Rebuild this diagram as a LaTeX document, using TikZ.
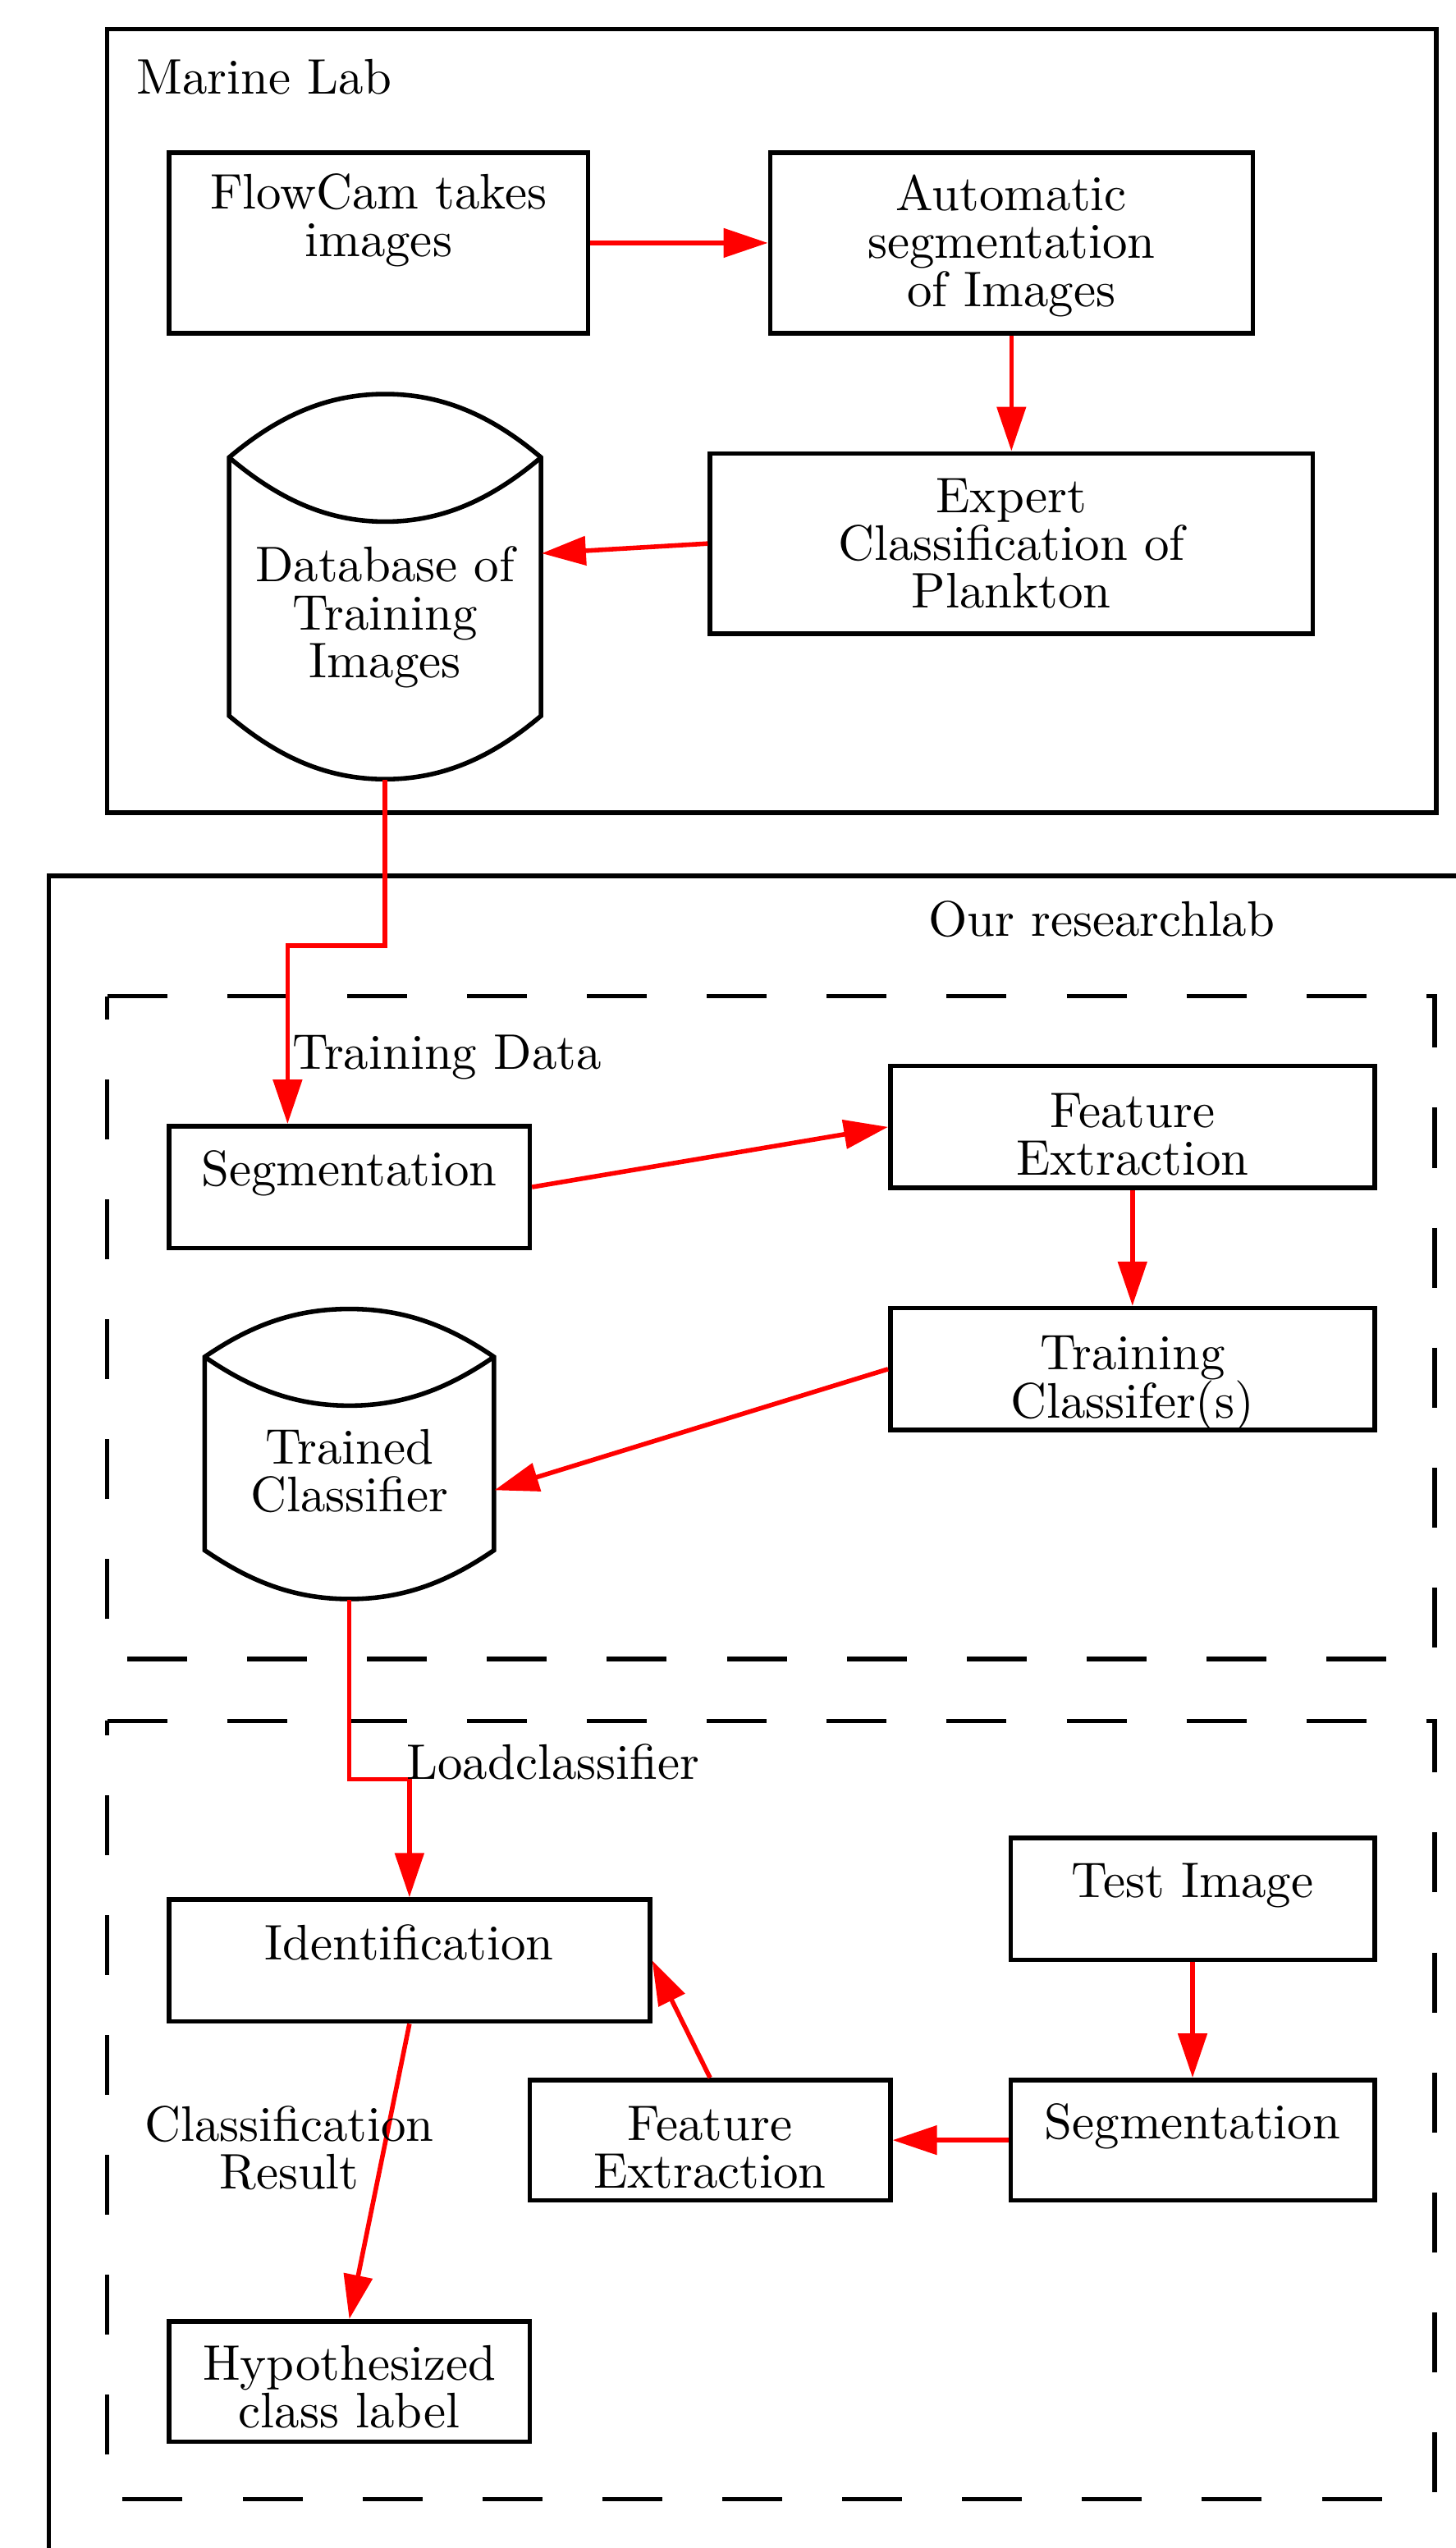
\documentclass[tikz,border=0pt]{standalone}
\usepackage{fontspec}
\setmainfont{lmroman10-regular.otf}
\usetikzlibrary{arrows.meta}
\tikzset{
  box/.style={draw, line width=1.6pt, inner sep=0pt},
  txt/.style={align=center, anchor=base},
  edge/.style={draw=red, line width=1.6pt, -{Triangle[length=15.5pt,width=10pt]}},
  cluster/.style={line width=1.6pt},
  dashcluster/.style={line width=1.6pt, dash pattern=on 21pt off 21pt},
}
\begin{document}
\begin{tikzpicture}[x=0.2mm, y=-0.2mm, font=\fontsize{17.5}{16.8}\selectfont]
\useasboundingbox (0,0) rectangle (896,1568);
% clusters
\draw[cluster] (66,18) rectangle (884,500);
\draw[cluster] (30,1568) -- (30,539) -- (896,539);
\draw[dashcluster] (66,613) -- (883,613) -- (883,1021) -- (66,1021) -- cycle;
\draw[dashcluster] (66,1059) -- (883,1059) -- (883,1538) -- (66,1538) -- cycle;
\node[txt, anchor=base west] (marinelbl) at (78,58) {Marine Lab};
\node[txt] (ourlbl) at (678,576) {Our researchlab};
\node[txt] (traininglbl) at (275,658) {Training Data};
% marine lab
\node[box, minimum width=51.6mm, minimum height=22.2mm, label={[txt, yshift=8pt]center:FlowCam takes\\images}] (flowcam) at (233,149.5) {};
\node[box, minimum width=59.4mm, minimum height=22.2mm, label={[txt, yshift=-1pt]center:Automatic\\segmentation\\of Images}] (autoseg) at (622.5,149.5) {};
\node[box, minimum width=74.2mm, minimum height=22.2mm, label={[txt, yshift=0pt]center:Expert\\Classification of\\Plankton}] (expert) at (622.5,334.5) {};
\node[inner sep=0pt, minimum width=38.4mm, minimum height=47.4mm, label={[txt, yshift=-10.8pt]center:Database of\\Training\\Images}] (database) at (237,361) {};
\draw[line width=1.6pt] (141,281.5) .. controls (170,257) and (200,242.5) .. (237,242.5) .. controls (274,242.5) and (304,257) .. (333,281.5) -- (333,440.5) .. controls (304,465) and (274,479.5) .. (237,479.5) .. controls (200,479.5) and (170,465) .. (141,440.5) -- cycle;
\draw[line width=1.6pt] (141,281.5) .. controls (170,306) and (200,321) .. (237,321) .. controls (274,321) and (304,306) .. (333,281.5);
% training data
\node[box, minimum width=44.4mm, minimum height=15mm, label={[txt, yshift=4.8pt]center:Segmentation}] (segtrain) at (215,730.5) {};
\node[box, minimum width=59.6mm, minimum height=15mm, label={[txt, yshift=-2.6pt]center:Feature\\Extraction}] (feattrain) at (697,693.5) {};
\node[box, minimum width=59.6mm, minimum height=15mm, label={[txt, yshift=-5pt]center:Training\\Classifer(s)}] (trainclf) at (697,842.5) {};
\node[inner sep=0pt, minimum width=35.6mm, minimum height=35.8mm, label={[txt, yshift=-6pt]center:Trained\\Classifier}] (trained) at (215,894.75) {};
\draw[line width=1.6pt] (126,835) .. controls (153,816.5) and (180,805.5) .. (215,805.5) .. controls (250,805.5) and (277,816.5) .. (304,835) -- (304,954) .. controls (277,972.5) and (250,984) .. (215,984) .. controls (180,984) and (153,972.5) .. (126,954) -- cycle;
\draw[line width=1.6pt] (126,835) .. controls (153,853.5) and (180,865) .. (215,865) .. controls (250,865) and (277,853.5) .. (304,835);
% identification
\node[box, minimum width=44.8mm, minimum height=15mm, label={[txt, yshift=4.8pt]center:Test Image}] (testimg) at (734,1168.5) {};
\node[box, minimum width=44.8mm, minimum height=14.8mm, label={[txt, yshift=4.8pt]center:Segmentation}] (segtest) at (734,1317) {};
\node[box, minimum width=44.4mm, minimum height=14.8mm, label={[txt, yshift=-2.6pt]center:Feature\\Extraction}] (feattest) at (437,1317) {};
\node[box, minimum width=59.2mm, minimum height=15mm, label={[txt, yshift=6.2pt]center:Identification}] (ident) at (252,1206.5) {};
\node[box, minimum width=44.4mm, minimum height=14.8mm, label={[txt, yshift=-1.9pt]center:Hypothesized\\class label}] (hypo) at (215,1465.5) {};
\coordinate (bendA) at (177,582);
\coordinate (bendB) at (252,1095);
\draw[edge] (flowcam.east) -- (autoseg.west);
\draw[edge] (autoseg.south) -- (expert.north);
\draw[edge] (expert.west) -- (database.12);
\draw[edge] (database.south) |- (bendA) -- (bendA |- segtrain.north);
\draw[edge] (segtrain.east) -- (feattrain.west);
\draw[edge] (feattrain.south) -- (trainclf.north);
\draw[edge] (trainclf.west) -- (trained.-14);
\draw[edge] (trained.south) |- (bendB) -- (bendB |- ident.north);
\draw[edge] (testimg.south) -- (segtest.north);
\draw[edge] (segtest.west) -- (feattest.east);
\draw[edge] (feattest.north) -- (ident.east);
\draw[edge] (ident.south) -- (hypo.north);
\node[txt, anchor=base west] (loadlbl) at (244,1095) {Loadclassifier};
\node[txt] (resultlbl) at (178,1347) {Classification\\Result};
\end{tikzpicture}
\end{document}
